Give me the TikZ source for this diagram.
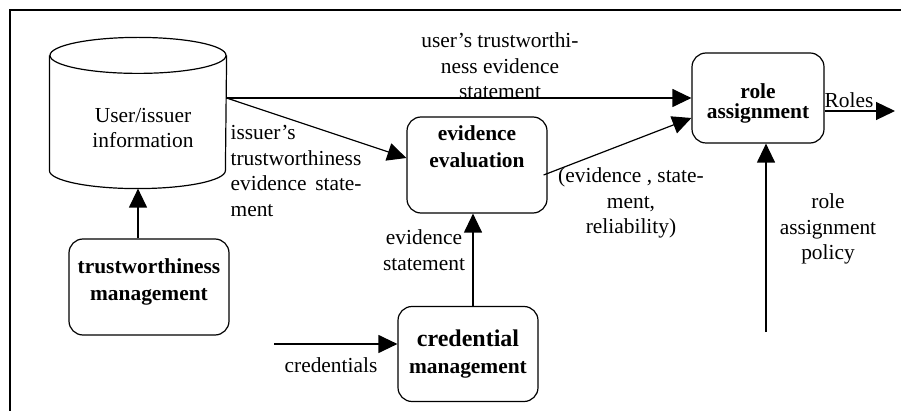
\documentclass[tikz,border=0pt]{standalone}
\usepackage{fontspec}
\setmainfont{Liberation Serif}
\usetikzlibrary{arrows.meta, positioning, calc}

\begin{document}
\begin{tikzpicture}[x=1pt, y=-1pt, line width=1.2pt,
  box/.style={draw, rounded corners=14pt, align=center, inner sep=0pt,
    font=\bfseries\fontsize{21.4}{27}\selectfont},
  lbl/.style={align=center, inner sep=0pt, font=\fontsize{21.4}{25.5}\selectfont},
  arr/.style={-{Triangle[length=19pt, width=18pt]}}]
  \useasboundingbox (0,0) rectangle (901,411);
  \draw (10,411) -- (10,10) -- (901,10);

  \node[minimum width=176pt, minimum height=150pt, inner sep=0pt] (info) at (138,113) {};
  \draw ($(info.north west)+(0,18)$) -- ($(info.south west)+(0,-18)$)
    arc[start angle=180, end angle=360, x radius=88pt, y radius=18pt]
    -- ($(info.north east)+(0,18)$);
  \draw ($(info.north)+(0,18)$) ellipse[x radius=88pt, y radius=18pt];
  \node[lbl] (infolbl) at (143,128) {User/issuer\\information};

  \node[box, minimum width=160pt, minimum height=96pt, text depth=14pt] (trust) at (149,287) {trustworthiness\\management};
  \node[box, minimum width=140pt, minimum height=96pt, text depth=36pt] (eval) at (477,165) {evidence\\evaluation};
  \node[box, minimum width=132pt, minimum height=90pt, text height=45pt,
    font=\bfseries\fontsize{21.4}{20}\selectfont] (role) at (758,98) {role\\assignment};
  \node[box, minimum width=140pt, minimum height=95pt] (cred) at (468,354) {{\fontsize{24}{27}\selectfont credential}\\management};

  \coordinate (src) at ($(info.east)+(0,-15)$);
  \coordinate (credin) at (274,344);
  \coordinate (policy) at (766,332);
  \coordinate (rolesout) at (895,111);

  \draw[arr] (info.south |- trust.north) -- (info.south);
  \draw[arr] (src) -- (src -| role.west);
  \draw[arr] (src) -- ($(eval.west)+(0,-7)$);
  \draw[arr] ($(eval.east)+(-4,10)$) -- ($(role.west)+(0,20)$);
  \draw[arr] ($(cred.north)+(5,0)$) -- ($(eval.south)+(-4,0)$);
  \draw[arr] (credin) -- (credin -| cred.west);
  \draw[arr] (policy) -- (policy |- role.south);
  \draw[arr] (rolesout -| role.east) -- (rolesout);

  \node[lbl] (userlbl) at (500,66) {user's trustworthi-\\ness evidence\\statement};
  \node[lbl, text width=131pt, align=left, anchor=north west] (issuerlbl) at (230,125)
    {issuer's\\trustworthiness\\evidence\hfill state-\\ment};
  \node[lbl] (tuplelbl) at (631,203) {(evidence , state-\\ment,\\reliability)};
  \node[lbl] (evlbl) at (424,250) {evidence\\statement};
  \node[lbl] (credlbl) at (331,365) {credentials};
  \node[lbl] (policylbl) at (828,229) {role\\assignment\\policy};
  \node[lbl, anchor=base] (roleslbl) at (849,108) {Roles};
\end{tikzpicture}
\end{document}
